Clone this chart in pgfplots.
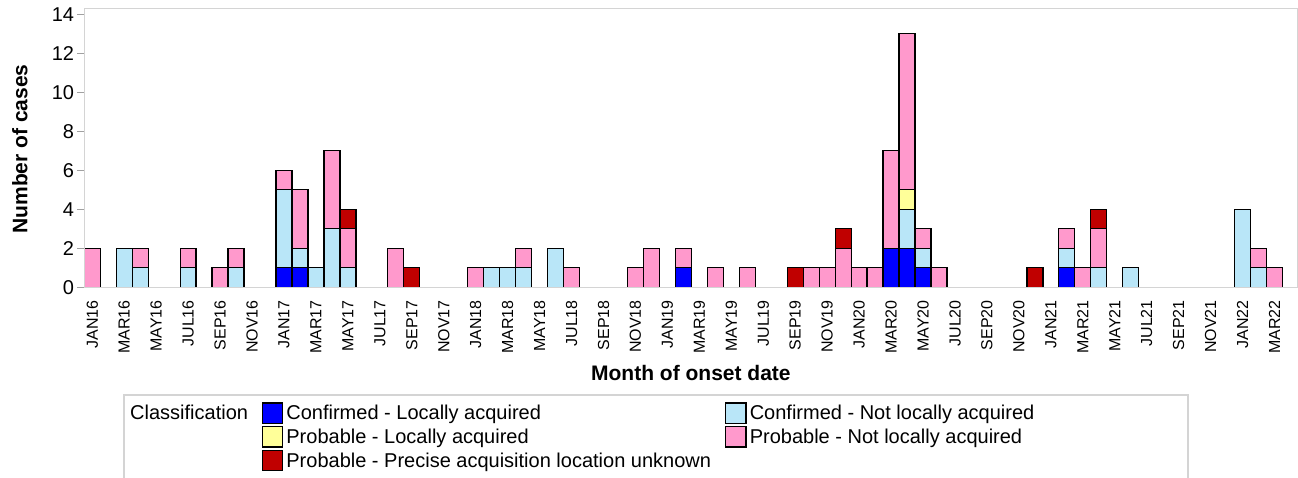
\documentclass[border=0pt]{standalone}
\usepackage{fontspec}
\setmainfont{Liberation Sans}
\usepackage{pgfplots}
\usepackage{pgfplotstable}
\pgfplotsset{compat=1.18}
\definecolor{cblue}{RGB}{0,0,255}
\definecolor{clblue}{RGB}{185,230,248}
\definecolor{cyellow}{RGB}{255,255,153}
\definecolor{cpink}{RGB}{255,153,204}
\definecolor{cred}{RGB}{192,0,0}
\definecolor{framegray}{RGB}{212,212,212}
\definecolor{tickgray}{RGB}{160,160,160}

\pgfplotstableread{
x blue lblue yellow pink red
0 0 0 0 2 0
1 0 0 0 0 0
2 0 2 0 0 0
3 0 1 0 1 0
4 0 0 0 0 0
5 0 0 0 0 0
6 0 1 0 1 0
7 0 0 0 0 0
8 0 0 0 1 0
9 0 1 0 1 0
10 0 0 0 0 0
11 0 0 0 0 0
12 1 4 0 1 0
13 1 1 0 3 0
14 0 1 0 0 0
15 0 3 0 4 0
16 0 1 0 2 1
17 0 0 0 0 0
18 0 0 0 0 0
19 0 0 0 2 0
20 0 0 0 0 1
21 0 0 0 0 0
22 0 0 0 0 0
23 0 0 0 0 0
24 0 0 0 1 0
25 0 1 0 0 0
26 0 1 0 0 0
27 0 1 0 1 0
28 0 0 0 0 0
29 0 2 0 0 0
30 0 0 0 1 0
31 0 0 0 0 0
32 0 0 0 0 0
33 0 0 0 0 0
34 0 0 0 1 0
35 0 0 0 2 0
36 0 0 0 0 0
37 1 0 0 1 0
38 0 0 0 0 0
39 0 0 0 1 0
40 0 0 0 0 0
41 0 0 0 1 0
42 0 0 0 0 0
43 0 0 0 0 0
44 0 0 0 0 1
45 0 0 0 1 0
46 0 0 0 1 0
47 0 0 0 2 1
48 0 0 0 1 0
49 0 0 0 1 0
50 2 0 0 5 0
51 2 2 1 8 0
52 1 1 0 1 0
53 0 0 0 1 0
54 0 0 0 0 0
55 0 0 0 0 0
56 0 0 0 0 0
57 0 0 0 0 0
58 0 0 0 0 0
59 0 0 0 0 1
60 0 0 0 0 0
61 1 1 0 1 0
62 0 0 0 1 0
63 0 1 0 2 1
64 0 0 0 0 0
65 0 1 0 0 0
66 0 0 0 0 0
67 0 0 0 0 0
68 0 0 0 0 0
69 0 0 0 0 0
70 0 0 0 0 0
71 0 0 0 0 0
72 0 4 0 0 0
73 0 1 0 1 0
74 0 0 0 1 0
}\data

\pgfplotsset{
  mylegend/.style={legend image code/.code={\draw[##1, draw=black, line width=1.3pt] (0pt,-8.15pt) rectangle (20.4pt,12.25pt);}},
}

\begin{document}
\begin{tikzpicture}
\path[use as bounding box] (-84.3pt,-189.7pt) rectangle (1213.7pt,287.3pt);
\begin{axis}[
  at={(0pt,0pt)}, anchor=south west,
  scale only axis, width=1213.2pt, height=279pt,
  xmin=-0.5, xmax=75.44, ymin=0, ymax=14.31,
  ybar stacked, bar width=1,
  axis on top,
  axis line style={draw=framegray, line width=1.3pt},
  xtick={0,2,...,74},
  xticklabels={JAN16,MAR16,MAY16,JUL16,SEP16,NOV16,JAN17,MAR17,MAY17,JUL17,SEP17,NOV17,JAN18,MAR18,MAY18,JUL18,SEP18,NOV18,JAN19,MAR19,MAY19,JUL19,SEP19,NOV19,JAN20,MAR20,MAY20,JUL20,SEP20,NOV20,JAN21,MAR21,MAY21,JUL21,SEP21,NOV21,JAN22,MAR22},
  x tick style={draw=none},
  xtick pos=bottom, ytick pos=left,
  ytick={0,2,...,14},
  y tick style={draw=tickgray, line width=1.3pt},
  tick align=outside, major tick length=7pt,
  /pgf/number format/assume math mode=true,
  xticklabel style={rotate=90, anchor=east, inner sep=0pt, inner xsep=5.7pt, font=\fontsize{16}{16}\selectfont},
  yticklabel style={anchor=east, inner sep=0pt, xshift=-3pt, font=\fontsize{20}{20}\selectfont},
  xlabel={Month of onset date},
  xlabel style={at={(axis description cs:0.5,-0.3323)}, anchor=base, font=\bfseries\fontsize{21}{21}\selectfont, inner sep=0pt},
  ylabel={Number of cases},
  ylabel style={at={(axis description cs:-0.04698,0.4957)}, anchor=base, font=\bfseries\fontsize{21}{21}\selectfont, inner sep=0pt},
  legend columns=2,
  legend cell align=left,
  legend style={
    at={(axis description cs:0.14622,-0.41219)}, anchor=north west,
    draw=none, fill=none, inner sep=0pt, outer sep=0pt,
    font=\fontsize{20}{24}\selectfont,
    row sep=-1.5pt,
    /tikz/every even column/.append style={column sep=11pt},
    nodes={inner sep=0pt, inner xsep=3pt, text height=17pt, text depth=7.5pt},
  },
]
\addplot[fill=cblue, draw=black, line width=1.3pt, mylegend] table[x=x, y=blue] {\data};
\addlegendentry{Confirmed - Locally acquired}
\addplot[fill=clblue, draw=black, line width=1.3pt, mylegend] table[x=x, y=lblue] {\data};
\addlegendentry{Confirmed - Not locally acquired}
\addplot[fill=cyellow, draw=black, line width=1.3pt, mylegend] table[x=x, y=yellow] {\data};
\addlegendentry{Probable - Locally acquired}
\addplot[fill=cpink, draw=black, line width=1.3pt, mylegend] table[x=x, y=pink] {\data};
\addlegendentry{Probable - Not locally acquired}
\addplot[fill=cred, draw=black, line width=1.3pt, mylegend] table[x=x, y=red] {\data};
\addlegendentry{Probable - Precise acquisition location unknown}
\end{axis}
\node[anchor=base west, inner sep=0pt, font=\fontsize{20}{24}\selectfont] at (45.7pt,-132.2pt) {Classification};
\draw[framegray, line width=1.3pt] (39.7pt,-195pt) -- (39.7pt,-107.7pt) -- (1103.7pt,-107.7pt) -- (1103.7pt,-195pt);
\end{tikzpicture}
\end{document}
